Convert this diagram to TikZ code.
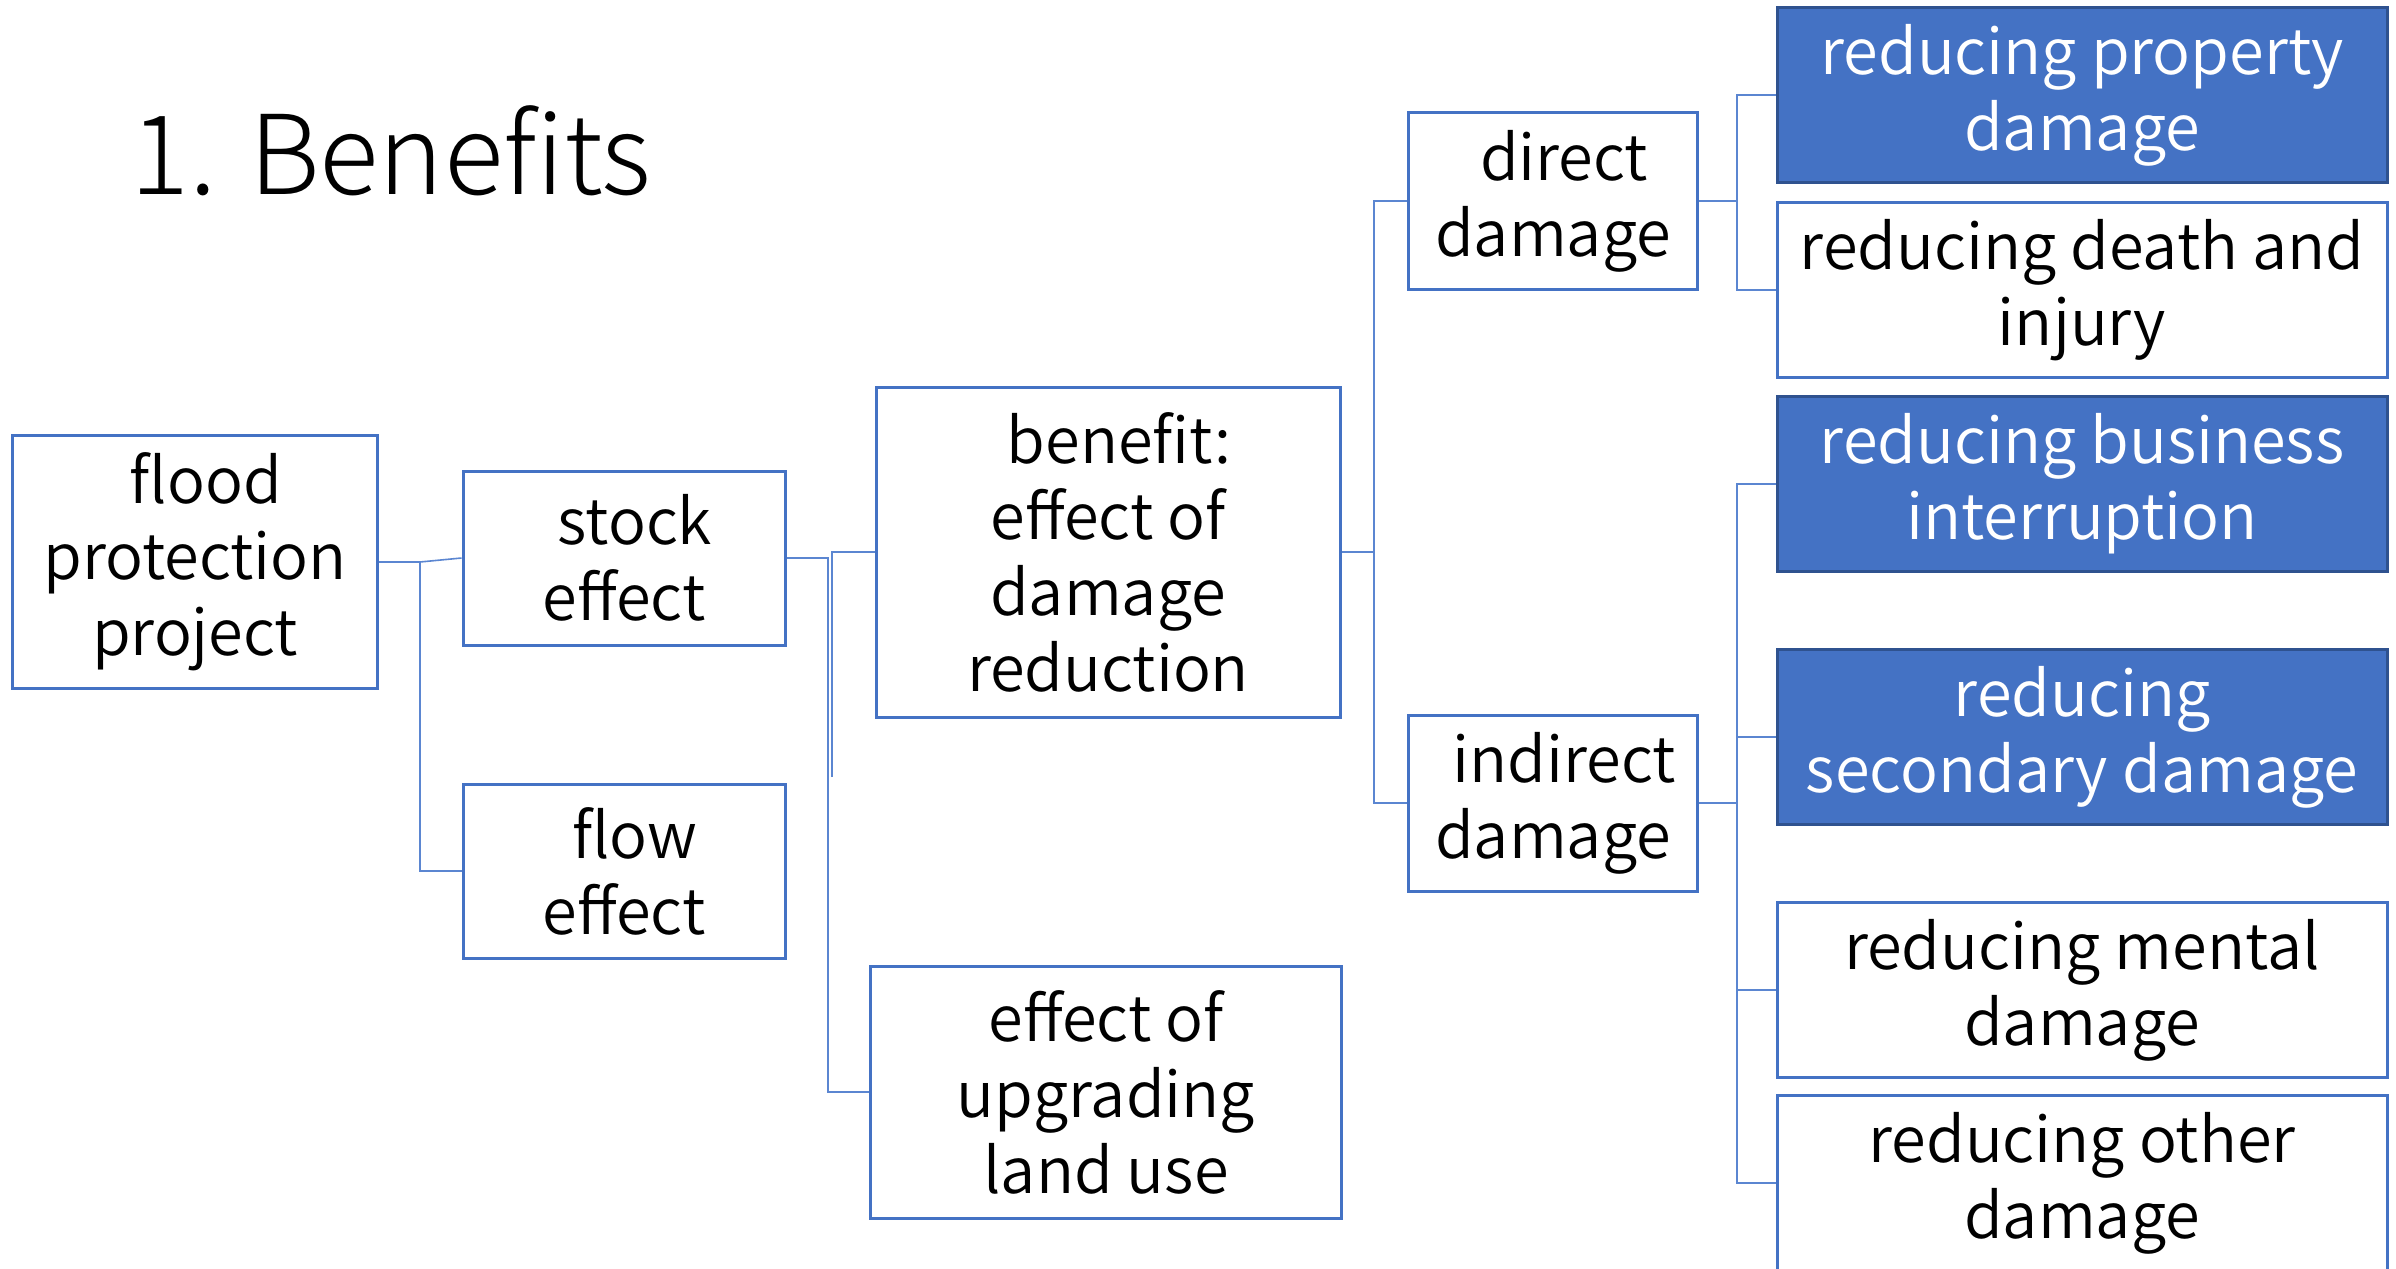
\documentclass[tikz,border=0pt]{standalone}
\usepackage{fontspec}
\setmainfont{Noto Sans CJK JP DemiLight}
\newfontfamily\titlefont{Noto Sans CJK JP Light}
\definecolor{obl}{HTML}{4472C4}
\definecolor{odk}{HTML}{2F528F}
\definecolor{cln}{HTML}{5B86D1}
\begin{document}
\begin{tikzpicture}[x=0.5pt,y=-0.5pt,
  box/.style={draw=obl,line width=1.5pt,fill=white,inner sep=0pt,align=center,font=\fontsize{31.5}{38}\selectfont},
  fbox/.style={box,draw=odk,fill=obl,text=white},
  conn/.style={draw=cln,line width=0.8pt}]
\useasboundingbox (0,0) rectangle (2396,1268);
\node[anchor=base west,inner sep=0pt,font=\titlefont\fontsize{55}{62}\selectfont] (title) at (130,194) {1. Benefits};
\node[box,minimum width=182.5pt,minimum height=126.5pt] (fpp) at (195,562) {\hspace*{11pt}flood\\protection\\project};
\node[box,minimum width=161pt,minimum height=87pt] (stock) at (624,558) {\hspace*{11pt}stock\\effect};
\node[box,minimum width=161pt,minimum height=87pt] (flow) at (624,871) {\hspace*{11pt}flow\\effect};
\node[box,minimum width=232pt,minimum height=165pt] (ben) at (1108,552) {\hspace*{11pt}benefit:\\effect of\\damage\\reduction};
\node[box,minimum width=235.5pt,minimum height=126pt] (upg) at (1106,1092) {effect of\\upgrading\\land use};
\node[box,minimum width=144.5pt,minimum height=88pt] (dir) at (1553,201) {\hspace*{11pt}direct\\damage};
\node[box,minimum width=144.5pt,minimum height=88pt] (ind) at (1553,803) {\hspace*{11pt}indirect\\damage};
\node[fbox,minimum width=305pt,minimum height=87.5pt] (prop) at (2082,95) {reducing property\\damage};
\node[box,minimum width=305pt,minimum height=87.5pt] (death) at (2082,290) {reducing death and\\injury};
\node[fbox,minimum width=305pt,minimum height=87.5pt] (bus) at (2082,484) {reducing business\\interruption};
\node[fbox,minimum width=305pt,minimum height=87.5pt] (sec) at (2082,737) {reducing\\secondary damage};
\node[box,minimum width=305pt,minimum height=87.5pt] (men) at (2082,990) {reducing mental\\damage};
\node[box,minimum width=305pt,minimum height=87.5pt] (oth) at (2082,1183) {reducing other\\damage};
% connectors
\coordinate (j1) at (420,562);
\draw[conn] (fpp.east) -- (j1) -- (stock.west);
\draw[conn] (j1) |- (flow.west);
\coordinate (j2) at (828,558);
\draw[conn] (stock.east) -- (j2) |- (upg.west);
\coordinate (j3) at (832,552);
\coordinate (j3b) at (832,777);
\draw[conn] (j3b) -- (j3) -- (ben.west);
\coordinate (j4) at (1374,552);
\draw[conn] (ben.east) -- (j4);
\draw[conn] (dir.west) -| (j4) |- (ind.west);
\coordinate (j5) at (1737,201);
\draw[conn] (dir.east) -- (j5);
\draw[conn] (prop.west) -| (j5) |- (death.west);
\coordinate (j6) at (1737,803);
\draw[conn] (ind.east) -- (j6);
\draw[conn] (bus.west) -| (j6) |- (oth.west);
\draw[conn] (sec.west) -- (sec.west -| j6);
\draw[conn] (men.west) -- (men.west -| j6);
\end{tikzpicture}
\end{document}
